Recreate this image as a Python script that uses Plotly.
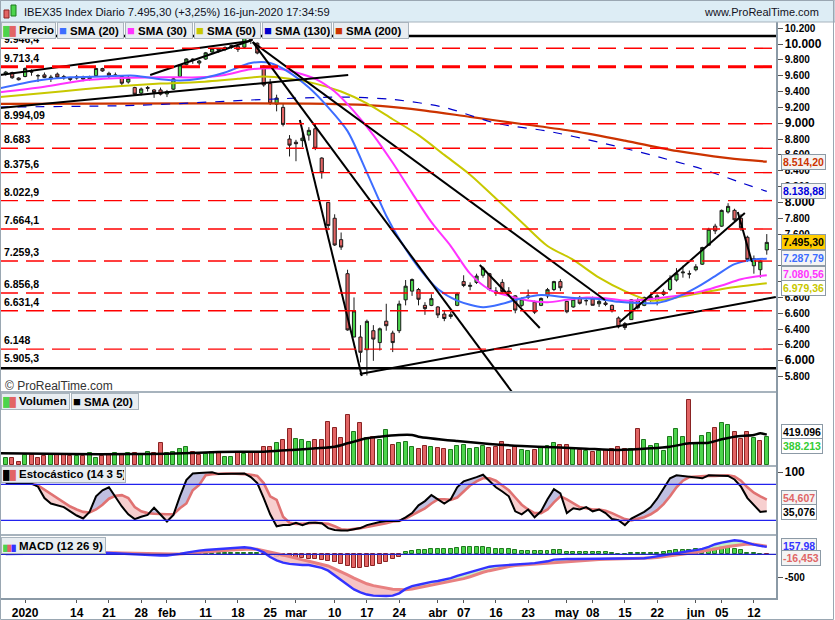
import pandas as pd
import plotly.graph_objects as go

# ---------------- DATA ----------------
holidays = ['2020-01-01', '2020-04-10', '2020-04-13', '2020-05-01']
dates = [d for d in pd.bdate_range('2019-12-27', '2020-06-16') if d.strftime('%Y-%m-%d') not in holidays]
idx = list(range(len(dates)))

tick_dates = ['2020-01-02', '2020-01-14', '2020-01-21', '2020-01-28', '2020-02-03', '2020-02-11', '2020-02-18',
              '2020-02-25', '2020-03-02', '2020-03-10', '2020-03-17', '2020-03-24', '2020-04-01', '2020-04-07',
              '2020-04-16', '2020-04-23', '2020-05-04', '2020-05-08', '2020-05-15', '2020-05-22', '2020-06-01',
              '2020-06-05', '2020-06-12']
tick_labels = ['2020', '14', '21', '28', 'feb', '11', '18', '25', 'mar', '10', '17', '24', 'abr', '07', '16', '23',
               'may', '08', '15', '22', 'jun', '05', '12']

opens = [9620, 9640, 9570, 9590, 9650, 9600, 9610, 9560, 9620, 9590, 9570, 9570, 9580, 9560, 9600, 9690, 9630, 9610,
         9590, 9520, 9450, 9380, 9450, 9420, 9420, 9370, 9430, 9590, 9740, 9810, 9760, 9810, 9900, 9940, 9930, 9960,
         9970, 9960, 10090, 10010, 9720, 9500, 9240, 9200, 8800, 8760, 8780, 8850, 8930, 8560, 8000, 7800, 7530, 7100,
         6300, 6300, 6140, 6380, 6230, 6500, 6350, 6380, 6770, 6880, 6900, 6700, 6700, 6680, 6590, 6560, 6700, 7000,
         6940, 6990, 7080, 7100, 6880, 6990, 6880, 6820, 6700, 6820, 6740, 6700, 6820, 6900, 7000, 6750, 6680, 6800,
         6760, 6780, 6720, 6730, 6700, 6540, 6470, 6520, 6760, 6700, 6780, 6760, 6840, 6900, 7020, 7110, 7100, 7150,
         7220, 7460, 7700, 7700, 7880, 7900, 7800, 7560, 7200, 7150, 7400]
highs = [9660, 9650, 9580, 9705, 9680, 9620, 9640, 9610, 9640, 9610, 9580, 9610, 9600, 9600, 9700, 9700, 9650, 9640,
         9600, 9600, 9460, 9450, 9470, 9430, 9450, 9420, 9570, 9740, 9820, 9820, 9800, 9900, 9950, 9950, 9970, 9990,
         9980, 10090, 10100, 10020, 9730, 9560, 9360, 9250, 8850, 8790, 8920, 8950, 8990, 8570, 8000, 7850, 7620, 7150,
         6800, 6450, 6520, 6450, 6420, 6720, 6380, 6760, 7020, 7040, 6920, 6740, 6840, 6690, 6640, 6620, 6860, 7080,
         6990, 7100, 7190, 7110, 6930, 7030, 6930, 6830, 6800, 6900, 6760, 6800, 6920, 7010, 7030, 6760, 6800, 6820,
         6790, 6810, 6770, 6760, 6710, 6560, 6490, 6780, 6790, 6810, 6830, 6840, 6900, 7080, 7170, 7200, 7140, 7220,
         7440, 7680, 7730, 7910, 7990, 7920, 7850, 7580, 7330, 7270, 7600]
lows = [9600, 9560, 9540, 9580, 9600, 9520, 9570, 9520, 9570, 9550, 9530, 9550, 9530, 9540, 9595, 9650, 9570, 9590,
        9470, 9500, 9350, 9350, 9400, 9320, 9350, 9330, 9420, 9580, 9730, 9750, 9730, 9800, 9880, 9890, 9910, 9940,
        9900, 9950, 10000, 9870, 9460, 9230, 9150, 8960, 8580, 8520, 8700, 8780, 8660, 8300, 7650, 7450, 7400, 6380,
        6300, 5980, 5814, 6000, 6130, 6380, 6110, 6350, 6700, 6820, 6700, 6580, 6690, 6540, 6500, 6530, 6690, 6930,
        6890, 6970, 7050, 6880, 6820, 6860, 6830, 6600, 6680, 6780, 6590, 6690, 6790, 6880, 6880, 6600, 6670, 6710,
        6700, 6700, 6680, 6690, 6610, 6410, 6390, 6520, 6650, 6690, 6740, 6700, 6820, 6880, 7000, 7050, 7040, 7130,
        7210, 7450, 7600, 7690, 7860, 7760, 7640, 7250, 7100, 7050, 7340]
closes = [9645, 9574, 9549, 9691, 9647, 9600, 9579, 9583, 9581, 9573, 9554, 9585, 9557, 9582, 9691, 9660, 9600, 9604,
          9505, 9562, 9366, 9432, 9442, 9387, 9367, 9398, 9560, 9735, 9811, 9800, 9785, 9889, 9941, 9920, 9956, 9981,
          9933, 10083, 10044, 9886, 9483, 9250, 9318, 8985, 8723, 8741, 8811, 8910, 8683, 8375, 7708, 7462, 7436, 6390,
          6630, 6107, 6498, 6274, 6404, 6443, 6230, 6717, 6942, 7026, 6777, 6659, 6785, 6579, 6534, 6581, 6844, 6951,
          6952, 7070, 7170, 6900, 6876, 6875, 6872, 6640, 6780, 6804, 6614, 6787, 6898, 7000, 6922, 6619, 6777, 6726,
          6759, 6701, 6750, 6712, 6632, 6429, 6420, 6770, 6670, 6800, 6810, 6820, 6870, 7040, 7100, 7120, 7096, 7188,
          7430, 7661, 7640, 7899, 7950, 7780, 7680, 7280, 7290, 7259.3, 7495.3]

volume = [92000, 92000, 37000, 138000, 138000, 92000, 129000, 138000, 138000, 138000, 129000, 129000, 129000, 161000,
          92000, 129000, 138000, 161000, 147000, 161000, 161000, 147000, 184000, 161000, 299000, 161000, 179000,
          216000, 244000, 175000, 138000, 152000, 184000, 161000, 115000, 106000, 161000, 152000, 170000, 184000,
          253000, 253000, 299000, 345000, 492000, 354000, 345000, 318000, 345000, 345000, 589000, 506000, 368000,
          690000, 460000, 575000, 368000, 391000, 345000, 483000, 276000, 299000, 313000, 253000, 216000, 260000,
          250000, 240000, 220000, 200000, 260000, 280000, 220000, 230000, 260000, 240000, 250000, 320000, 200000,
          250000, 210000, 190000, 200000, 230000, 260000, 300000, 280000, 270000, 220000, 200000, 190000, 180000,
          190000, 200000, 220000, 250000, 216000, 216000, 492000, 345000, 262000, 285000, 193000, 382000, 492000,
          382000, 897000, 299000, 400000, 437000, 506000, 575000, 552000, 451000, 354000, 451000, 368000, 331000,
          388213]
vol_sma_x = [-1, 10, 20, 25, 30, 36, 40, 44, 46, 48, 51, 53, 54, 56, 58, 61, 63, 64, 70, 75, 80, 85, 90, 95, 100,
             103, 106, 109, 111, 113, 116, 117, 118]
vol_sma_y = [161000, 150000, 150000, 155000, 170000, 184000, 184000, 207000, 216000, 230000, 253000, 299000, 322000,
             368000, 391000, 414000, 414000, 391000, 330000, 290000, 262000, 245000, 225000, 207000, 230000, 253000,
             299000, 308000, 354000, 391000, 414000, 437000, 419096]

sma20_x = [-1, 5, 10, 15, 20, 24, 27, 30, 34, 38, 41, 44, 47, 50, 53, 56, 59, 61, 64, 67, 70, 74, 77, 80, 83, 86, 89,
           92, 95, 98, 101, 104, 107, 110, 113, 116, 118]
sma20_y = [9440, 9540, 9580, 9590, 9600, 9555, 9540, 9560, 9640, 9760, 9760, 9640, 9450, 9200, 8900, 8376, 7832,
           7540, 7180, 6906, 6760, 6677, 6720, 6790, 6830, 6810, 6790, 6780, 6745, 6730, 6730, 6800, 6920, 7070, 7220,
           7280, 7287.79]
sma30_x = [-1, 6, 12, 18, 24, 30, 34, 38, 42, 45, 48, 51, 54, 57, 60, 63, 66, 69, 72, 75, 78, 81, 84, 87, 90, 93, 96,
           99, 102, 105, 108, 111, 114, 118]
sma30_y = [9390, 9460, 9540, 9570, 9580, 9580, 9610, 9680, 9690, 9640, 9560, 9400, 9150, 8850, 8500, 8120, 7750,
           7449, 7100, 6900, 6820, 6760, 6740, 6770, 6800, 6790, 6760, 6770, 6800, 6830, 6880, 6950, 7030, 7080.56]
sma50_x = [-1, 6, 12, 18, 24, 30, 36, 40, 44, 48, 52, 56, 60, 64, 68, 72, 76, 80, 84, 88, 92, 96, 100, 104, 108, 112,
           116, 118]
sma50_y = [9330, 9380, 9430, 9470, 9500, 9520, 9560, 9590, 9560, 9500, 9400, 9250, 9050, 8850, 8600, 8350, 8050, 7750,
           7450, 7274, 7050, 6880, 6760, 6800, 6860, 6920, 6960, 6979.36]
sma130_x = [-1, 20, 40, 52, 60, 68, 76, 84, 92, 100, 108, 114, 118]
sma130_y = [9205, 9225, 9300, 9330, 9300, 9200, 9000, 8900, 8760, 8600, 8420, 8250, 8138.88]
sma200_x = [-1, 30, 50, 58, 65, 72, 80, 88, 96, 104, 112, 118]
sma200_y = [9245, 9250, 9245, 9220, 9160, 9080, 8990, 8900, 8780, 8650, 8560, 8514.20]

level_values = [9946.4, 9713.4, 8994.09, 8683, 8375.6, 8022.9, 7664.1, 7259.3, 6856.8, 6631.4, 6148]
level_labels = ['9.946,4', '9.713,4', '8.994,09', '8.683', '8.375,6', '8.022,9', '7.664,1', '7.259,3', '6.856,8',
                '6.631,4', '6.148']
black_levels = [10100, 5905.3]
black_level_labels = ['', '5.905,3']

# trend lines: (start index, start price, end index, end price)
trend_lines = [(-0.9, 9609, 37.9, 10038), (-0.9, 9192, 53.1, 9609), (22.4, 9609, 38.2, 10050),
               (38.3, 10025, 78.5, 5606), (38.3, 10025, 92.9, 6768), (45.6, 9040, 55.2, 5808),
               (54.9, 5833, 119.4, 6806), (73.5, 7210, 82.8, 6414), (95.2, 6490, 114.6, 7866),
               (113.5, 7879, 115.7, 7247)]

stoch_k = [82, 82, 82, 82, 81, 76, 57, 48, 45, 42, 35, 28, 23, 34, 60, 70, 75, 59, 43, 30, 22, 26, 29, 41, 29, 18, 29,
           60, 87, 98, 99, 100, 100, 97, 97, 97, 97, 98, 92, 82, 57, 30, 10, 12, 12, 16, 12, 16, 16, 15, 7, 4, 3, 3, 5,
           7, 12, 15, 17, 19, 19, 19, 25, 32, 45, 52, 62, 55, 48, 55, 75, 85, 88, 92, 96, 85, 75, 68, 60, 35, 30, 38,
           25, 35, 55, 72, 65, 32, 40, 38, 42, 35, 38, 32, 22, 20, 12, 23, 28, 34, 42, 56, 73, 90, 95, 94, 93, 92, 90,
           95, 95, 95, 94, 88, 76, 57, 45, 34, 35.076]
stoch_d = [82, 82, 82, 82, 81, 78, 71, 64, 57, 50, 43, 38, 34, 33, 38, 46, 56, 61, 62, 57, 42, 35, 32, 31, 30, 30, 30,
           40, 48, 70, 79, 95, 97, 98, 98, 98, 98, 97, 96, 94, 82, 60, 54, 26, 16, 14, 14, 15, 16, 15, 14, 10, 5, 4, 5,
           7, 9, 11, 12, 15, 18, 19, 23, 29, 34, 40, 48, 55, 55, 54, 58, 68, 78, 85, 90, 90, 86, 78, 70, 58, 46, 38,
           32, 32, 38, 50, 60, 55, 48, 42, 40, 38, 38, 36, 32, 27, 22, 20, 22, 25, 30, 37, 47, 60, 75, 86, 92, 93, 93,
           94, 94, 95, 95, 93, 86, 75, 66, 60, 54.607]

macd_line = [5, 8, 10, 14, 16, 18, 20, 20, 21, 22, 25, 28, 30, 33, 35, 34, 28, 20, 14, 8, 0, -10, -20, -27, -29, -25,
             -15, 10, 35, 60, 78, 90, 100, 110, 118, 127, 140, 149, 135, 100, 40, -60, -130, -180, -205, -225, -230,
             -230, -260, -290, -350, -450, -560, -660, -750, -812, -860, -884, -890, -890, -884, -834, -740, -680,
             -650, -615, -590, -570, -540, -510, -460, -420, -380, -330, -290, -265, -248, -240, -235, -228, -215,
             -200, -188, -170, -150, -115, -100, -100, -100, -100, -100, -100, -95, -88, -90, -95, -98, -100, -95,
             -85, -65, -40, -15, 8, 25, 50, 70, 90, 114, 160, 215, 250, 278, 299, 285, 240, 205, 180, 157.98]
macd_signal = [20, 21, 22, 24, 26, 28, 30, 32, 34, 36, 38, 40, 41, 42, 42, 41, 38, 34, 30, 25, 21, 16, 11, 8, 6, 4, 4,
               8, 16, 26, 36, 46, 58, 68, 80, 92, 102, 110, 113, 108, 80, 45, 10, -15, -50, -90, -120, -150, -180,
               -210, -250, -310, -370, -440, -510, -570, -630, -670, -700, -730, -748, -755, -760, -740, -713, -680,
               -650, -630, -600, -575, -550, -520, -480, -430, -385, -350, -315, -285, -260, -242, -232, -220, -212,
               -205, -195, -180, -160, -150, -140, -130, -122, -115, -110, -107, -105, -102, -100, -98, -95, -88,
               -82, -70, -55, -38, -20, 5, 20, 38, 60, 80, 110, 140, 165, 185, 205, 218, 215, 195, 174]
macd_hist = [10, 8, 6, 5, 4, 2, 0, -3, -8, -12, -12, -12, -11, -8, -5, -5, -8, -10, -12, -14, -15, -15, -14, -10, -8,
             -5, 5, 10, 20, 25, 30, 35, 35, 35, 35, 35, 35, 35, 30, 20, -10, -40, -55, -65, -65, -75, -86, -100, -110,
             -121, -143, -170, -210, -260, -295, -300, -280, -250, -205, -165, -110, -60, 40, 70, 90, 100, 106, 106,
             106, 113, 127, 149, 149, 163, 163, 142, 113, 106, 106, 92, 71, 71, 71, 71, 78, 92, 85, 56, 56, 56, 56,
             56, 56, 42, 21, 6, 0, 21, 21, 21, 21, 21, 42, 71, 92, 92, 92, 106, 92, 106, 128, 149, 128, 106, 85, 28,
             21, 0, -16.453]

assert len(dates) == 119
for arr in (opens, highs, lows, closes, volume, stoch_k, stoch_d, macd_line, macd_signal, macd_hist):
    assert len(arr) == 119, len(arr)

# ---------------- LAYOUT HELPERS ----------------
W, H = 835, 620
ML, MR, MT, MB = 0, 59, 22, 22
PW, PH = W - ML - MR, H - MT - MB
FONT = 'Liberation Sans, Arial, sans-serif'


def fx(px):
    return (px - ML) / PW


def fy(py):
    return (H - MB - py) / PH


GREEN, RED = '#4cd44c', '#e26464'
GREEN_L, RED_L = '#1d7a1d', '#8a2323'

fig = go.Figure()

# price pane ----------------------------------------------------------
fig.add_trace(go.Candlestick(x=idx, open=opens, high=highs, low=lows, close=closes,
                             increasing=dict(line=dict(color='#1a1a1a', width=1), fillcolor=GREEN),
                             decreasing=dict(line=dict(color='#1a1a1a', width=1), fillcolor=RED),
                             whiskerwidth=0, xaxis='x', yaxis='y', showlegend=False))

sma_styles = [(sma200_x, sma200_y, '#cc3300', 2.2, 'solid'),
              (sma130_x, sma130_y, '#0000cc', 1.2, 'dash'),
              (sma50_x, sma50_y, '#c8c800', 2.0, 'solid'),
              (sma30_x, sma30_y, '#ff33ff', 2.0, 'solid'),
              (sma20_x, sma20_y, '#3d6dff', 2.0, 'solid')]
for sx, sy, col, w, dash in sma_styles:
    fig.add_trace(go.Scatter(x=sx, y=sy, mode='lines', line=dict(color=col, width=w, dash=dash, shape='spline',
                                                                   smoothing=0.8),
                             xaxis='x', yaxis='y', showlegend=False, hoverinfo='skip'))

tx, ty = [], []
for a, b, c, d in trend_lines:
    tx += [a, c, None]
    ty += [b, d, None]
fig.add_trace(go.Scatter(x=tx, y=ty, mode='lines', line=dict(color='black', width=2), xaxis='x', yaxis='y',
                         showlegend=False, hoverinfo='skip'))

shapes = []
annotations = []
LBL = dict(family=FONT, size=10.5, color='black')
for v, lab in zip(level_values, level_labels):
    shapes.append(dict(type='line', xref='x domain', yref='y', x0=0, x1=1, y0=v, y1=v,
                       line=dict(color='#ff0000', width=3 if lab == '9.713,4' else 1.4, dash='18px,8px')))
    annotations.append(dict(xref='paper', yref='y', x=fx(2), y=v, xanchor='left', yanchor='bottom', yshift=1,
                            text='<b>%s</b>' % lab, showarrow=False, font=LBL))
for v, lab in zip(black_levels, black_level_labels):
    shapes.append(dict(type='line', xref='x domain', yref='y', x0=0, x1=1, y0=v, y1=v,
                       line=dict(color='black', width=2.5)))
    if lab:
        annotations.append(dict(xref='paper', yref='y', x=fx(2), y=v, xanchor='left', yanchor='bottom', yshift=2,
                                text='<b>%s</b>' % lab, showarrow=False, font=LBL))

# volume pane ---------------------------------------------------------
vol_colors, vol_lines = [], []
for k in range(len(closes)):
    up = k == 0 or closes[k] >= closes[k - 1]
    vol_colors.append(GREEN if up else RED)
    vol_lines.append(GREEN_L if up else RED_L)
fig.add_trace(go.Bar(x=idx, y=volume, width=0.62, marker=dict(color=vol_colors, line=dict(color=vol_lines, width=1)),
                     xaxis='x', yaxis='y2', showlegend=False, hoverinfo='skip'))
fig.add_trace(go.Scatter(x=vol_sma_x, y=vol_sma_y, mode='lines',
                         line=dict(color='black', width=2.5, shape='spline', smoothing=0.8),
                         xaxis='x', yaxis='y2', showlegend=False, hoverinfo='skip'))


# fills between two lines ---------------------------------------------
def split_regions(x, a, b):
    regs = []
    cur = None
    seg = []
    for k in range(len(x)):
        s = a[k] >= b[k]
        if cur is None:
            cur = s
            seg = [(x[k], a[k], b[k])]
        elif s != cur:
            d0 = a[k - 1] - b[k - 1]
            d1 = a[k] - b[k]
            t = d0 / (d0 - d1) if d0 != d1 else 0
            xc = x[k - 1] + t * (x[k] - x[k - 1])
            yc = a[k - 1] + t * (a[k] - a[k - 1])
            seg.append((xc, yc, yc))
            regs.append((cur, seg))
            seg = [(xc, yc, yc), (x[k], a[k], b[k])]
            cur = s
        else:
            seg.append((x[k], a[k], b[k]))
    regs.append((cur, seg))
    return regs


def add_fill(x, a, b, col_pos, col_neg, yaxis):
    for s, seg in split_regions(x, a, b):
        xs = [p[0] for p in seg] + [p[0] for p in reversed(seg)]
        ys = [p[1] for p in seg] + [p[2] for p in reversed(seg)]
        fig.add_trace(go.Scatter(x=xs, y=ys, mode='lines', fill='toself', fillcolor=col_pos if s else col_neg,
                                 line=dict(width=0), xaxis='x', yaxis=yaxis, showlegend=False, hoverinfo='skip'))


# stochastic pane -----------------------------------------------------
add_fill(idx, stoch_k, stoch_d, 'rgba(170,170,215,0.75)', 'rgba(245,195,195,0.8)', 'y3')
for lvl in (80, 20):
    shapes.append(dict(type='line', xref='x domain', yref='y3', x0=0, x1=1, y0=lvl, y1=lvl,
                       line=dict(color='#2222ee', width=1.2)))
fig.add_trace(go.Scatter(x=idx, y=stoch_d, mode='lines', line=dict(color='#e07272', width=2.6),
                         xaxis='x', yaxis='y3', showlegend=False, hoverinfo='skip'))
fig.add_trace(go.Scatter(x=idx, y=stoch_k, mode='lines', line=dict(color='black', width=2),
                         xaxis='x', yaxis='y3', showlegend=False, hoverinfo='skip'))

# MACD pane -----------------------------------------------------------
hist_colors = [GREEN if h >= 0 else RED for h in macd_hist]
hist_lines = [GREEN_L if h >= 0 else RED_L for h in macd_hist]
add_fill(idx, macd_line, macd_signal, 'rgba(190,240,190,0.9)', 'rgba(245,190,190,0.9)', 'y4')
fig.add_trace(go.Bar(x=idx, y=macd_hist, width=0.62, marker=dict(color=hist_colors, line=dict(color=hist_lines, width=1)),
                     xaxis='x', yaxis='y4', showlegend=False, hoverinfo='skip'))
shapes.append(dict(type='line', xref='x domain', yref='y4', x0=0, x1=1, y0=0, y1=0,
                   line=dict(color='#2222cc', width=1.2)))
fig.add_trace(go.Scatter(x=idx, y=macd_signal, mode='lines', line=dict(color='#e88080', width=3),
                         xaxis='x', yaxis='y4', showlegend=False, hoverinfo='skip'))
fig.add_trace(go.Scatter(x=idx, y=macd_line, mode='lines', line=dict(color='#3333ff', width=2.4),
                         xaxis='x', yaxis='y4', showlegend=False, hoverinfo='skip'))

# ---------------- AXES ----------------
tick_idx = [next(i for i, d in enumerate(dates) if d.strftime('%Y-%m-%d') == t) for t in tick_dates]


def fmt_es(v):
    return '{:,.0f}'.format(v).replace(',', '.')


price_ticks = list(range(5800, 10201, 200))
price_text = []
for v in price_ticks:
    if v % 1000 == 0:
        price_text.append("<span style='font-size:12px'><b>%s</b></span>" % fmt_es(v))
    else:
        price_text.append('<b>%s</b>' % fmt_es(v))

dom_macd = [0, fy(535)]
dom_sto = [fy(535), fy(466)]
dom_vol = [fy(466), fy(392)]
dom_price = [fy(392), 1]

axis_common = dict(side='right', anchor='x', showgrid=False, zeroline=False, showline=True, linecolor='#8b9aa6',
                   linewidth=1.5, ticks='outside', ticklen=5, tickcolor='#555', fixedrange=True,
                   tickfont=dict(family=FONT, size=10, color='black'))

fig.update_layout(
    width=W, height=H, margin=dict(l=ML, r=MR, t=MT, b=MB, autoexpand=False),
    paper_bgcolor='white', plot_bgcolor='white', showlegend=False, bargap=0,
    xaxis=dict(domain=[0, 1], anchor='y4', range=[-0.89, 119.43], tickmode='array', tickvals=tick_idx,
               ticktext=['<b>%s</b>' % t for t in tick_labels], ticks='outside', ticklen=3, tickcolor='#555',
               tickfont=dict(family=FONT, size=12, color='black'), showgrid=False, zeroline=False,
               showline=True, linecolor='#8b9aa6', linewidth=1.5, rangeslider=dict(visible=False),
               fixedrange=True),
    yaxis=dict(domain=dom_price, range=[5606, 10278], tickmode='array', tickvals=price_ticks, ticktext=price_text,
               **axis_common),
    yaxis2=dict(domain=dom_vol, range=[-14000, 1007000], tickmode='array', tickvals=[], **axis_common),
    yaxis3=dict(domain=dom_sto, range=[-4.5, 110.5], tickmode='array', tickvals=[100],
                ticktext=["<span style='font-size:12px'><b>100</b></span>"], **axis_common),
    yaxis4=dict(domain=dom_macd, range=[-934, 412], tickmode='array', tickvals=[-500], ticktext=['<b>-500</b>'],
                **axis_common),
)

# pane separators & frame
for py in (392, 466, 535):
    shapes.append(dict(type='line', xref='paper', yref='paper', x0=0, x1=1, y0=fy(py), y1=fy(py),
                       line=dict(color='#a7b3bd', width=2)))
shapes.append(dict(type='rect', xref='paper', yref='paper', x0=fx(0), x1=fx(W), y0=fy(0), y1=fy(22),
                   fillcolor='#ddedf5', line=dict(color='#a7b3bd', width=1), layer='above'))
shapes.append(dict(type='rect', xref='paper', yref='paper', x0=fx(0.5), x1=fx(833.5), y0=fy(619.5), y1=fy(0.5),
                   line=dict(color='#9aa7b2', width=1)))
# header icon
shapes.append(dict(type='rect', xref='paper', yref='paper', x0=fx(4), x1=fx(9), y0=fy(18), y1=fy(10),
                   fillcolor=RED, line=dict(color='#8a2323', width=1), layer='above'))
shapes.append(dict(type='rect', xref='paper', yref='paper', x0=fx(11), x1=fx(16), y0=fy(16), y1=fy(5),
                   fillcolor=GREEN, line=dict(color='#1d7a1d', width=1), layer='above'))

annotations.append(dict(xref='paper', yref='paper', x=fx(22), y=fy(12), xanchor='left', yanchor='middle',
                        text='IBEX35 Index Diario 7.495,30 (+3,25%) 16-jun-2020 17:34:59', showarrow=False,
                        font=dict(family=FONT, size=11.2, color='#111122')))
annotations.append(dict(xref='paper', yref='paper', x=fx(821), y=fy(12), xanchor='right', yanchor='middle',
                        text='www.ProRealTime.com', showarrow=False, font=dict(family=FONT, size=11, color='#111122')))
annotations.append(dict(xref='paper', yref='paper', x=fx(3), y=fy(386), xanchor='left', yanchor='middle',
                        text='© ProRealTime.com', showarrow=False, font=dict(family=FONT, size=12, color='#333')))


# right value boxes
def value_box(yref, val, text, color, bg, yshift=0):
    annotations.append(dict(xref='paper', yref=yref, x=fx(781), y=val, xanchor='left', yanchor='middle',
                            yshift=yshift, text='<b>%s</b>' % text, showarrow=False, bgcolor=bg,
                            bordercolor='#8c9aa6', borderwidth=1, borderpad=1,
                            font=dict(family=FONT, size=10.5, color=color)))


value_box('y', sma200_y[-1], '8.514,20', '#cc3300', '#f4f4f4')
value_box('y', sma130_y[-1], '8.138,88', '#0000dd', '#f4f4f4')
value_box('y', closes[-1], '7.495,30', 'black', '#ffcc00')
value_box('y', sma20_y[-1], '7.287,79', '#3d6dff', '#f4f4f4', 1)
value_box('y', sma30_y[-1], '7.080,56', '#ff33ff', '#f4f4f4', 1)
value_box('y', sma50_y[-1], '6.979,36', '#c8c800', '#ffffff', -5)
value_box('y2', vol_sma_y[-1], '419.096', 'black', '#ffffff', 3)
value_box('y2', volume[-1], '388.213', '#33cc33', '#ffffff', -9)
value_box('y3', stoch_d[-1], '54,607', '#e06666', '#f4f4f4', 2)
value_box('y3', stoch_k[-1], '35,076', 'black', '#ffffff', -1)
value_box('y4', macd_line[-1], '157,98', '#3333ff', '#f4f4f4', 1)
value_box('y4', macd_hist[-1], '-16,453', '#e06666', '#f4f4f4', -3)


# legends
def legend(x0, x1, y0, text):
    annotations.append(dict(xref='paper', yref='paper', x=fx(x0), y=fy(y0), xanchor='left', yanchor='top',
                            text=text, showarrow=False, align='left', width=x1 - x0 - 4, height=13,
                            bgcolor='#e8edf1', bordercolor='#a9b4bd', borderwidth=1, borderpad=1,
                            font=dict(family=FONT, size=11.5, color='black')))


def sq(c):
    return "<span style='color:%s;font-size:13px'>■</span>" % c


dual = ("<span style='color:%s;font-size:9px'>█</span><span style='color:%s;font-size:9px'>█</span>"
        % (GREEN, RED))
legend(1, 56, 22, dual + ' <b>Precio</b>')
legend(57, 124, 22, sq('#3d6dff') + ' <b>SMA (20)</b>')
legend(125, 193, 22, sq('#ff33ff') + ' <b>SMA (30)</b>')
legend(194, 261, 22, sq('#c8c800') + ' <b>SMA (50)</b>')
legend(262, 332, 22, sq('#0000cc') + ' <b>SMA (130)</b>')
legend(333, 409, 22, sq('#cc3300') + ' <b>SMA (200)</b>')
legend(1, 70, 393, dual + ' <b>Volumen</b>')
legend(71, 139, 393, sq('black') + ' <b>SMA (20)</b>')
legend(1, 126, 466, "<span style='color:black;font-size:9px'>█</span><span style='color:%s;font-size:9px'>█</span>"
       % RED + ' <b>Estocástico (14 3 5)</b>')
legend(1, 106, 537, "<span style='color:%s;font-size:6px'>█</span><span style='color:%s;font-size:6px'>█</span>"
       "<span style='color:#3333ff;font-size:6px'>█</span>" % (GREEN, RED) + ' <b>MACD (12 26 9)</b>')

fig.update_layout(shapes=shapes, annotations=annotations)
fig.write_html('out.html')
